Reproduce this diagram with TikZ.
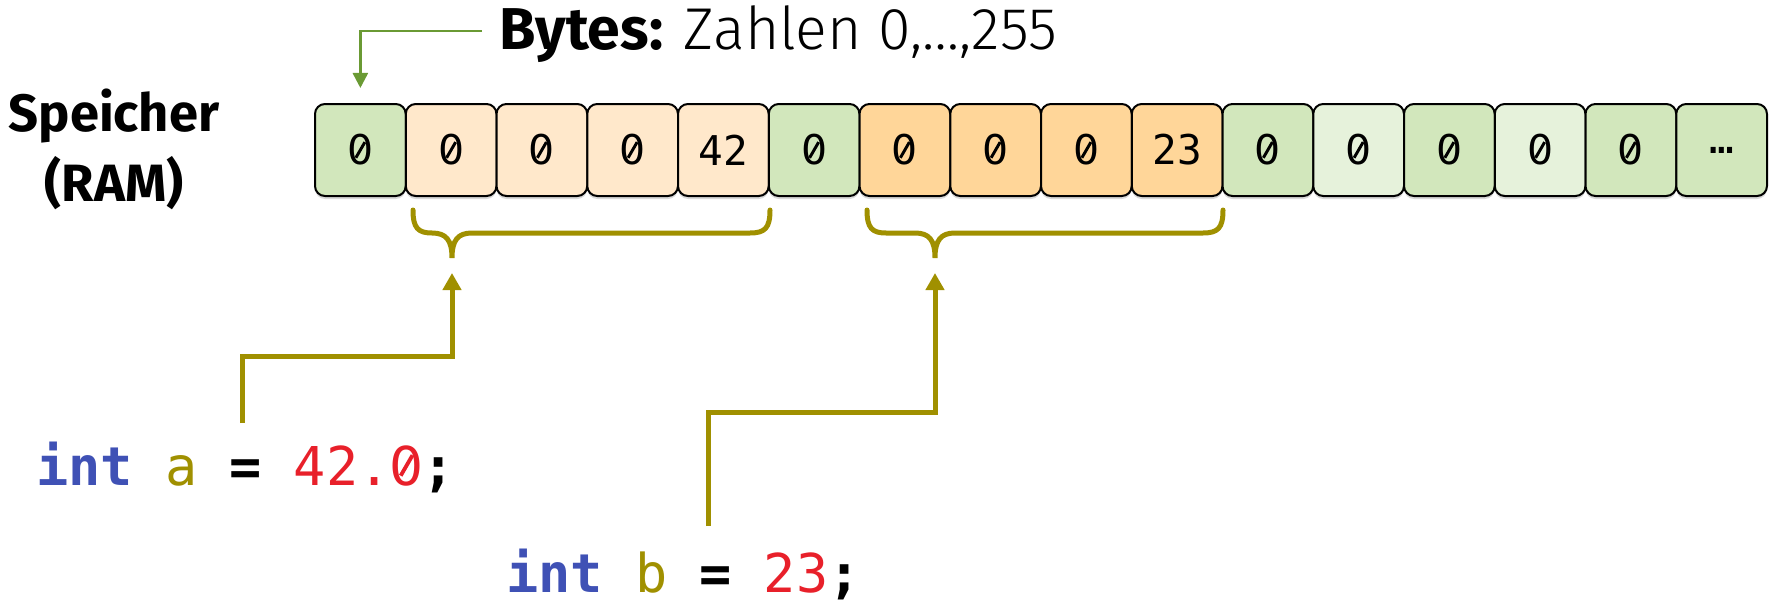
\documentclass[tikz,border=0pt]{standalone}
\usepackage{fontspec}
\setmainfont{Fira Sans}
\newfontfamily\lightsans{Fira Sans Light}
\setmonofont{DejaVu Sans Mono}
\newfontfamily\zerofont{DejaVu Sans}
\usetikzlibrary{arrows.meta,shadows}

% slashed zero with the advance width of the mono digits
\newcommand\zr{\makebox[0.602em][c]{\zerofont 0}\llap{\makebox[0.602em][c]{%
  \raisebox{0.365em}{\rotatebox[origin=c]{60}{\rule[-0.036em]{0.44em}{0.072em}}}}}}

\definecolor{cellgreen}{HTML}{D2E7BC}
\definecolor{cellpale}{HTML}{E6F2DB}
\definecolor{celllight}{HTML}{FFE8CB}
\definecolor{cellorange}{HTML}{FFD699}
\definecolor{olive}{HTML}{A09000}
\definecolor{arrowgreen}{HTML}{6A9A34}
\definecolor{kwblue}{HTML}{3F51B5}
\definecolor{numred}{HTML}{E8202A}

\tikzset{
  cell/.style={draw=black, line width=2pt, rounded corners=10pt,
    minimum width=90.75pt, minimum height=92pt, inner sep=0pt,
    font=\ttfamily\fontsize{41}{41}\selectfont,
    drop shadow={shadow xshift=0pt, shadow yshift=-3pt, opacity=0.15, fill=black}},
  bracepath/.style={draw=olive, line width=5pt, line cap=round},
  olivearrow/.style={draw=olive, line width=5pt,
    -{Triangle[width=18pt,length=17pt]}},
  greenarrow/.style={draw=arrowgreen, line width=2.5pt,
    -{Triangle[width=15pt,length=15pt]}},
  code/.style={inner sep=0pt, anchor=base west,
    font=\ttfamily\fontsize{53.5}{60}\selectfont},
}

\begin{document}
\begin{tikzpicture}[x=1pt, y=-1pt]
\useasboundingbox (0,0) rectangle (1773,602);

% memory cells
\foreach \v/\c [count=\i] in {\zr/cellgreen, \zr/celllight, \zr/celllight, \zr/celllight,
    42/celllight, \zr/cellgreen, \zr/cellorange, \zr/cellorange, \zr/cellorange,
    23/cellorange, \zr/cellgreen, \zr/cellpale, \zr/cellgreen, \zr/cellpale,
    \zr/cellgreen, …/cellgreen}
  \node[cell, fill=\c] (c\i) at ({315+90.75*(\i-0.5)}, 150) {\v};

% labels
\node[inner sep=0pt, align=center, font=\bfseries\fontsize{52.5}{70}\selectfont]
  (ram) at (114, 149) {Speicher\\(RAM)};
\node[inner sep=0pt, anchor=base west, font=\fontsize{59}{59}\selectfont]
  (bytes) at (499, 50) {\textbf{Bytes:} {\lightsans Zahlen 0,…,255}};

\coordinate (g0) at (482, 31);
\draw[greenarrow] (g0) -| ([yshift=15pt]c1.north);

% braces under the two int values
\coordinate (tipA) at (452, 258);
\coordinate (tipB) at (935, 258);
\draw[bracepath] (413,210) .. controls (413,228) and (418,233) .. (432,233)
  .. controls (446,233) and (452,240) .. (tipA)
  .. controls (452,240) and (458,233) .. (472,233) -- (750,233)
  .. controls (765,233) and (770,228) .. (770,210);
\draw[bracepath] (867,210) .. controls (867,228) and (872,233) .. (886,233) -- (915,233)
  .. controls (929,233) and (935,240) .. (tipB)
  .. controls (935,240) and (941,233) .. (955,233) -- (1203,233)
  .. controls (1218,233) and (1223,228) .. (1223,210);

% source lines
\node[code] (codeA) at (36, 485)
  {{\bfseries\color{kwblue}int} {\color{olive}a} {\bfseries =} {\color{numred}42.\zr}{\bfseries ;}};
\node[code] (codeB) at (506, 592)
  {{\bfseries\color{kwblue}int} {\color{olive}b} {\bfseries =} {\color{numred}23}{\bfseries ;}};

\coordinate (a0) at (242, 423);
\coordinate (b0) at (708, 526);
\draw[olivearrow] (a0) -- (a0 |- 0,356) -| ([yshift=-15pt]tipA);
\draw[olivearrow] (b0) -- (b0 |- 0,412) -| ([yshift=-15pt]tipB);
\end{tikzpicture}
\end{document}
